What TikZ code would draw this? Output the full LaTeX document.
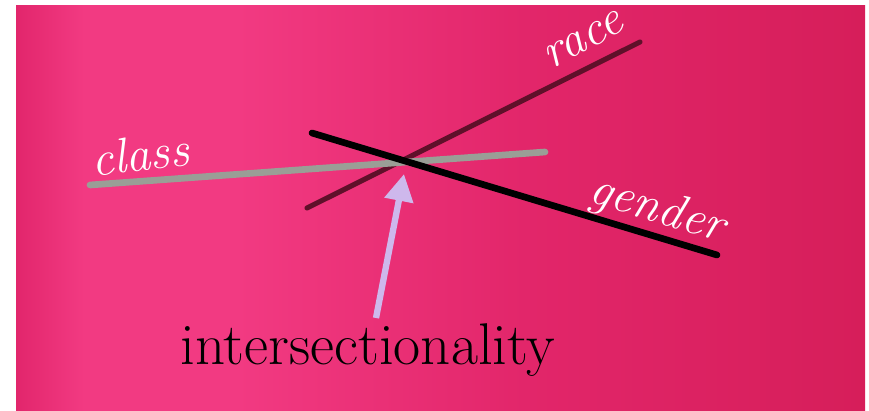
\documentclass[tikz,border=0pt]{standalone}
\usepackage{tikz}
\usetikzlibrary{arrows.meta}
\definecolor{pinkE}{RGB}{226,38,108}
\definecolor{pinkL}{RGB}{242,58,130}
\definecolor{pinkM}{RGB}{226,38,106}
\definecolor{pinkD}{RGB}{214,30,90}
\definecolor{classgray}{RGB}{154,158,150}
\definecolor{racered}{RGB}{96,16,42}
\definecolor{lavender}{RGB}{206,184,236}
\pgfdeclarehorizontalshading{bgshade}{100bp}{color(0bp)=(pinkE); color(25bp)=(pinkE); color(29bp)=(pinkL); color(38bp)=(pinkL); color(55bp)=(pinkM); color(75bp)=(pinkD); color(100bp)=(pinkD)}

\begin{document}
\begin{tikzpicture}[x=0.02cm,y=-0.02cm,>=Latex,
  tag/.style={text=white,font=\itshape\fontsize{28}{28}\selectfont,inner sep=0pt},
  bar/.style={line cap=round}]
\useasboundingbox (0,0) rectangle (869,411);
\shade[shading=bgshade] (16,6) rectangle (865,411);
\coordinate (race_sw) at (307,208);
\coordinate (race_ne) at (640,42);
\coordinate (class_w) at (90,185);
\coordinate (class_e) at (545,152);
\coordinate (gender_nw) at (312,133);
\coordinate (gender_se) at (717,255);
\coordinate (cross) at (404,174);
\coordinate (tail) at (376,318);
\draw[bar,racered,line width=2.9pt] (race_sw)--(race_ne);
\draw[bar,classgray,line width=3.8pt] (class_w)--(class_e);
\draw[bar,black,line width=3.8pt] (gender_nw)--(gender_se);
\draw[lavender,line width=3.6pt,-{Triangle[length=0.54cm,width=0.56cm]}] (tail)--(cross);
\node[tag,rotate=7] (class) at (140,154) {class};
\node[tag,rotate=28] (race) at (584,40) {race};
\node[tag,rotate=-17] (gender) at (657,210) {gender};
\node[font=\fontsize{33.5}{34}\selectfont,inner sep=0pt] (isect) at (368,350) {intersectionality};
\end{tikzpicture}
\end{document}
